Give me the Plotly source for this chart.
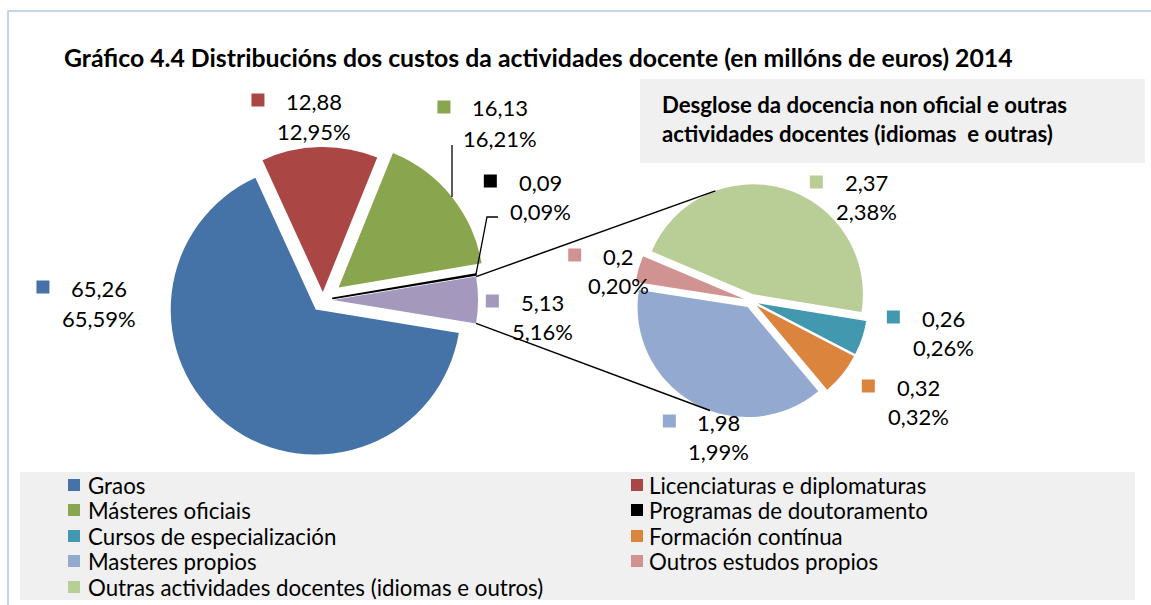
import math
import plotly.graph_objects as go

W, H = 1151, 605

# ---------------- data ----------------
main_labels = ["Graos", "Licenciaturas e diplomaturas", "Másteres oficiais",
               "Programas de doutoramento"]
main_values = [65.26, 12.88, 16.13, 0.09]
main_colors = ["#4572A7", "#AA4643", "#89A54E", "#000000"]
other_label = "Docencia non oficial e outras actividades docentes"
other_color = "#A598BD"

sec_labels = ["Cursos de especialización", "Formación contínua", "Masteres propios",
              "Outros estudos propios", "Outras actividades docentes (idiomas e outros)"]
sec_values = [0.26, 0.32, 1.98, 0.20, 2.37]
sec_colors = ["#4198AF", "#DB843D", "#93A9CF", "#D19392", "#B9CD96"]

title_text = "Gráfico 4.4 Distribucións dos custos da actividades docente (en millóns de euros) 2014"
subtitle_lines = ["Desglose da docencia non oficial e outras",
                  "actividades docentes (idiomas  e outras)"]

other_value = round(sum(sec_values), 2)
all_main_values = main_values + [other_value]
all_main_labels = main_labels + [other_label]
all_main_colors = main_colors + [other_color]
total = sum(all_main_values)

legend_labels = main_labels + sec_labels
legend_colors = main_colors + sec_colors


def fmt_num(v):
    return ("%g" % v).replace(".", ",")


def fmt_pct(v):
    return ("%.2f%%" % (100.0 * v / total)).replace(".", ",")


# ---------------- geometry (layout, pixels) ----------------
C1, R1 = (323.0, 300.0), 145.0
pull1_px = [12, 8, 20, 10, 10]
C2, R2 = (751.0, 301.0), 110.0
pull2_px = [7, 7, 7, 7, 7]
rotation = 90 + 180.0 * other_value / total
FONT = "Lato, 'Open Sans', sans-serif"


def xp(x):
    return x / W


def yp(y):
    return 1 - y / H


def domain(c, r, pmax):
    h = r + pmax
    return dict(x=[(c[0] - h) / W, (c[0] + h) / W], y=[1 - (c[1] + h) / H, 1 - (c[1] - h) / H])


def slice_angles(values, rot):
    s = sum(values)
    a = rot
    out = []
    for v in values:
        span = 360.0 * v / s
        out.append((a, a + span))
        a += span
    return out


def pt(c, r, ang):
    t = math.radians(ang)
    return (c[0] + r * math.sin(t), c[1] - r * math.cos(t))


main_ang = slice_angles(all_main_values, rotation)
sec_ang = slice_angles(sec_values, rotation)
main_centers = [pt(C1, p, (a0 + a1) / 2) for p, (a0, a1) in zip(pull1_px, main_ang)]
sec_centers = [pt(C2, p, (a0 + a1) / 2) for p, (a0, a1) in zip(pull2_px, sec_ang)]

fig = go.Figure()
fig.add_trace(go.Pie(
    values=all_main_values, labels=all_main_labels, sort=False, direction="clockwise",
    rotation=rotation, pull=[p / R1 for p in pull1_px], textinfo="none", hoverinfo="label+value",
    showlegend=False, domain=domain(C1, R1, max(pull1_px)),
    marker=dict(colors=all_main_colors,
                line=dict(color=["rgba(0,0,0,0)"] * 3 + ["#000000", "rgba(0,0,0,0)"],
                          width=[0, 0, 0, 1.6, 0])),
))
fig.add_trace(go.Pie(
    values=sec_values, labels=sec_labels, sort=False, direction="clockwise",
    rotation=rotation, pull=[p / R2 for p in pull2_px], textinfo="none", hoverinfo="label+value",
    showlegend=False, domain=domain(C2, R2, max(pull2_px)),
    marker=dict(colors=sec_colors, line=dict(width=0)),
))

shapes = []
annotations = []

# outer border
shapes.append(dict(type="rect", xref="paper", yref="paper", x0=xp(8), x1=xp(1170), y0=yp(630), y1=yp(11),
                   line=dict(color="#B4C7E7", width=1.5), fillcolor="rgba(0,0,0,0)", layer="below"))
# subtitle box
shapes.append(dict(type="rect", xref="paper", yref="paper", x0=xp(640), x1=xp(1145), y0=yp(163), y1=yp(79),
                   line=dict(width=0), fillcolor="#F0F0F0", layer="below"))
# legend box
shapes.append(dict(type="rect", xref="paper", yref="paper", x0=xp(20), x1=xp(1135), y0=yp(600), y1=yp(472),
                   line=dict(width=0), fillcolor="#F0F0F0", layer="below"))

# connector lines between pies
other_c = main_centers[4]
a0, a1 = main_ang[4]
p_top = pt(other_c, R1, a0)
p_bot = pt(other_c, R1, a1)
q_top = pt(sec_centers[4], R2, -20)
q_bot = pt(sec_centers[2], R2, 200)
for p, q in [(p_top, q_top), (p_bot, q_bot)]:
    shapes.append(dict(type="line", xref="paper", yref="paper", x0=xp(p[0]), y0=yp(p[1]),
                       x1=xp(q[0]), y1=yp(q[1]), line=dict(color="#000000", width=1.5)))

# leader line: green slice
gc = main_centers[2]
lx = 452.0
ly = gc[1] - math.sqrt(R1 ** 2 - (lx - gc[0]) ** 2)
shapes.append(dict(type="line", xref="paper", yref="paper", x0=xp(lx), y0=yp(145), x1=xp(lx), y1=yp(ly),
                   line=dict(color="#000000", width=1.3)))
# leader line: doctoral slice
bc = main_centers[3]
bp = pt(bc, R1, sum(main_ang[3]) / 2)
shapes.append(dict(type="path", xref="paper", yref="paper",
                   path="M %f,%f L %f,%f L %f,%f" % (xp(498), yp(217), xp(487), yp(217), xp(bp[0]), yp(bp[1])),
                   line=dict(color="#000000", width=1.3)))

# data labels (layout positions: text centre x, line1 y, line2 y)
main_label_pos = [(99, 288, 318), (314, 101, 131), (500, 108, 138), (540, 182, 211), (542, 302, 331)]
sec_label_pos = [(943, 318, 347), (918, 387, 416), (719, 422, 451), (618, 256, 285), (866, 183, 211)]

LBL = 22
KEY_GAP = 28   # from key centre to start of value text
KEY = 13


def text_width(s, size):
    w = 0.0
    for ch in s:
        w += 0.23 if ch == "," else (0.84 if ch == "%" else 0.58)
    return w * size


def add_label(v, color, pos):
    cx, y1, y2 = pos
    txt = fmt_num(v)
    annotations.append(dict(x=xp(cx), y=yp(y1), xref="paper", yref="paper", text=txt, showarrow=False,
                            xanchor="center", yanchor="middle", font=dict(family=FONT, size=LBL, color="#000")))
    annotations.append(dict(x=xp(cx), y=yp(y2), xref="paper", yref="paper", text=fmt_pct(v), showarrow=False,
                            xanchor="center", yanchor="middle", font=dict(family=FONT, size=LBL, color="#000")))
    kx = cx - text_width(txt, LBL) / 2 - KEY_GAP
    ky = y1 - 1
    shapes.append(dict(type="rect", xref="paper", yref="paper", x0=xp(kx - KEY / 2), x1=xp(kx + KEY / 2),
                       y0=yp(ky + KEY / 2), y1=yp(ky - KEY / 2), line=dict(width=0), fillcolor=color))


for v, c, pos in zip(all_main_values, all_main_colors, main_label_pos):
    add_label(v, c, pos)
for v, c, pos in zip(sec_values, sec_colors, sec_label_pos):
    add_label(v, c, pos)

# title and subtitle
annotations.append(dict(x=xp(62), y=yp(57), xref="paper", yref="paper", text="<b>%s</b>" % title_text,
                        showarrow=False, xanchor="left", yanchor="middle",
                        font=dict(family=FONT, size=24.8, color="#000")))
for i, s in enumerate(subtitle_lines):
    annotations.append(dict(x=xp(660), y=yp(105 + 28 * i), xref="paper", yref="paper", text="<b>%s</b>" % s,
                            showarrow=False, xanchor="left", yanchor="middle",
                            font=dict(family=FONT, size=22.2, color="#000")))

# legend (two columns, row-wise)
col_sq = [74, 637]
col_tx = [86, 647]
row_y = [485, 510, 536, 561, 587]
for i, (lab, col) in enumerate(zip(legend_labels, legend_colors)):
    r, c = divmod(i, 2)
    y = row_y[r]
    shapes.append(dict(type="rect", xref="paper", yref="paper", x0=xp(col_sq[c] - 6), x1=xp(col_sq[c] + 6),
                       y0=yp(y + 6), y1=yp(y - 6), line=dict(width=0), fillcolor=col))
    annotations.append(dict(x=xp(col_tx[c]), y=yp(y), xref="paper", yref="paper", text=lab, showarrow=False,
                            xanchor="left", yanchor="middle", font=dict(family=FONT, size=22.3, color="#000")))

fig.update_layout(width=W, height=H, margin=dict(l=0, r=0, t=0, b=0), paper_bgcolor="#FFFFFF",
                  plot_bgcolor="#FFFFFF", shapes=shapes, annotations=annotations, showlegend=False)

fig.write_html("out.html", config={"displayModeBar": False},
               post_script="document.body.style.margin='0px';document.body.style.overflow='hidden';")
